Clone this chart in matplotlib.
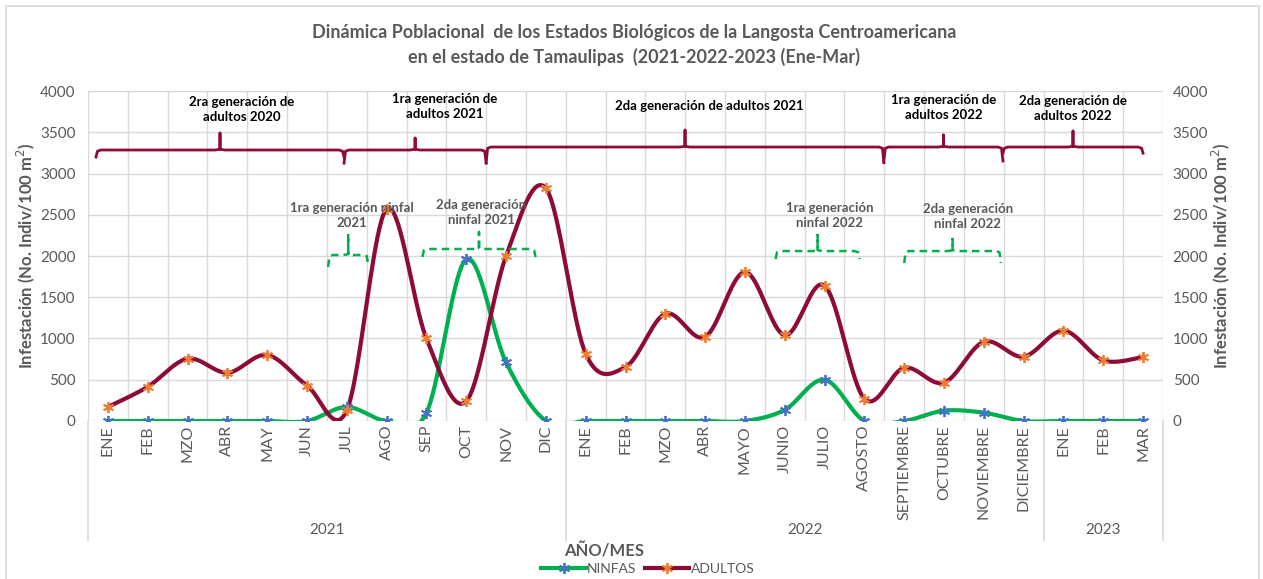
import numpy as np
import matplotlib.pyplot as plt
from matplotlib.transforms import blended_transform_factory

# Data
Months = ["ENE", "FEB", "MZO", "ABR", "MAY", "JUN", "JUL", "AGO", "SEP", "OCT", "NOV", "DIC",
          "ENE", "FEB", "MZO", "ABR", "MAYO", "JUNIO", "JULIO", "AGOSTO", "SEPTIEMBRE", "OCTUBRE",
          "NOVIEMBRE", "DICIEMBRE", "ENE", "FEB", "MAR"]
Years = ["2021", "2022", "2023"]
Months_per_year = [12, 12, 3]
Ninfas = [0, 0, 0, 0, 0, 0, 170, 0, 100, 1960, 710, 0,
          0, 0, 0, 0, 0, 135, 500, 0, 0, 125, 100, 0, 0, 0, 0]
Adultos = [170, 415, 755, 585, 800, 430, 130, 2570, 1000, 240, 2000, 2820,
           815, 655, 1300, 1020, 1805, 1040, 1640, 270, 645, 465, 960, 780, 1095, 735, 775]

# Generation brackets: (start, end, label) in category units
Adult_gens = [(-0.3, 5.93, "2ra generación de\nadultos 2020"),
              (5.93, 9.5, "1ra generación de\nadultos 2021"),
              (9.5, 19.49, "2da generación de adultos 2021"),
              (19.49, 22.48, "1ra generación de\nadultos 2022"),
              (22.48, 26.0, "2da generación de\nadultos 2022")]
Ninfa_gens = [(5.53, 6.54, "1ra generación ninfal\n2021"),
              (7.9, 10.74, "2da generación\nninfal 2021"),
              (16.77, 18.88, "1ra generación\nninfal 2022"),
              (20.0, 22.43, "2da generación\nninfal 2022")]

GRAY = "#595959"
RED = "#8E0B38"
GREEN = "#00B050"
plt.rcParams["font.family"] = ["Lato", "DejaVu Sans"]


def smooth(y, n=40):
    # Excel-like smoothed line (Catmull-Rom through the points)
    y = np.asarray(y, dtype=float)
    x = np.arange(len(y), dtype=float)
    P = np.column_stack([x, y])
    P = np.vstack([P[0], P, P[-1]])
    t = np.linspace(0, 1, n)[:, None]
    out = []
    for i in range(1, len(P) - 2):
        p0, p1, p2, p3 = P[i - 1], P[i], P[i + 1], P[i + 2]
        c1 = p1 + (p2 - p0) / 6
        c2 = p2 - (p3 - p1) / 6
        seg = (1 - t) ** 3 * p1 + 3 * (1 - t) ** 2 * t * c1 + 3 * (1 - t) * t ** 2 * c2 + t ** 3 * p2
        out.append(seg)
    out = np.vstack(out)
    return out[:, 0], out[:, 1]


def brace(ax, a, b, y, up, down, **kw):
    c = (a + b) / 2
    r = 0.12
    xs = [a, a + r * 0.3, a + r, c - r, c, c, c, c + r, b - r, b - r * 0.3, b]
    ys = [y - down, y - 15, y, y, y + 10, y + up, y + 10, y, y, y - 15, y - down]
    ax.plot(xs, ys, clip_on=False, **kw)


fig = plt.figure(figsize=(12.63, 5.79), dpi=100)
ax = fig.add_axes([0.0697, 0.2729, 0.8511, 0.5699])
x = np.arange(len(Months))

xs, ys = smooth(Ninfas)
ax.plot(xs, ys, color=GREEN, lw=3, zorder=3)
ax.plot(x, Ninfas, ls="none", marker=(6, 2, 0), ms=8, mew=1.3, color="#4472C4", zorder=4)
xs, ys = smooth(Adultos)
ax.plot(xs, ys, color=RED, lw=3, zorder=3)
ax.plot(x, Adultos, ls="none", marker=(6, 2, 0), ms=8, mew=1.3, color="#ED7D31", zorder=4)

ax.set_xlim(-0.5, 26.5)
ax.set_ylim(0, 4000)
ax.set_yticks(range(0, 4001, 500))
ax.set_xticks(np.arange(-0.5, 27, 1), minor=False)
ax.set_xticklabels([])
ax.tick_params(axis="x", length=0)
ax.tick_params(axis="y", length=0, labelsize=11, labelcolor=GRAY, pad=9)
ax.grid(True, color="#D9D9D9", lw=1)
for s in ax.spines.values():
    s.set_visible(False)
ax.set_axisbelow(True)

tr = blended_transform_factory(ax.transData, ax.transAxes)
for i, m in enumerate(Months):
    ax.text(i, -0.012, m, rotation=90, ha="center", va="top", fontsize=11.5, color=GRAY, transform=tr)

# Year groups
start = 0
bounds = [-0.5]
for yr, n in zip(Years, Months_per_year):
    ax.text(start + (n - 1) / 2, -0.33, yr, ha="center", va="center", fontsize=11, color=GRAY, transform=tr)
    start += n
    bounds.append(start - 0.5)
for bx in bounds:
    ax.plot([bx, bx], [0, -0.36], color="#D9D9D9", lw=1.2, transform=tr, clip_on=False)

ax.set_ylabel("Infestación (No. Indiv/100 m$^2$)", fontsize=12, fontweight="bold", color=GRAY, labelpad=2)
ax2 = ax.twinx()
ax2.set_ylim(0, 4000)
ax2.set_yticks(range(0, 4001, 500))
ax2.tick_params(axis="y", length=0, labelsize=11, labelcolor=GRAY, pad=7)
for s in ax2.spines.values():
    s.set_visible(False)
ax2.set_ylabel("Infestación (No. Indiv/100 m$^2$)", fontsize=12, fontweight="bold", color=GRAY, labelpad=1)

# Generation annotations
adult_y = [3285, 3285, 3321, 3321, 3321]
adult_up = [205, 145, 206, 146, 194]
adult_down = [85, 160, 190, 170, 75]
adult_txt_y = [3776, 3812, 3818, 3800, 3794]
adult_dx = [0.55, 0.75, 0.6, 0.0, 0.0]
for (a, b, lab), yy, up, dn, ty, dx in zip(Adult_gens, adult_y, adult_up, adult_down, adult_txt_y, adult_dx):
    brace(ax, a, b, yy, up, dn, color=RED, lw=2, zorder=5)
    ax.text((a + b) / 2 + dx, ty, lab, ha="center", va="center", fontsize=9.5, fontweight="bold",
            color="black", linespacing=1.3, zorder=6)

ninfa_y = [2012, 2085, 2060, 2060]
ninfa_up = [255, 206, 195, 146]
ninfa_down = [145, 97, 97, 145]
ninfa_txt_y = [2497, 2530, 2485, 2473]
ninfa_dx = [0.1, 0.05, 0.3, 0.38]
for (a, b, lab), yy, up, dn, ty, dx in zip(Ninfa_gens, ninfa_y, ninfa_up, ninfa_down, ninfa_txt_y, ninfa_dx):
    brace(ax, a, b, yy, up, dn, color=GREEN, lw=1.8, ls=(0, (3, 2)), zorder=5)
    ax.text((a + b) / 2 + dx, ty, lab, ha="center", va="center", fontsize=9.5, fontweight="bold",
            color=GRAY, linespacing=1.3, zorder=6)

fig.text(0.502, 0.922, "Dinámica Poblacional  de los Estados Biológicos de la Langosta Centroamericana\n"
         "en el estado de Tamaulipas  (2021-2022-2023 (Ene-Mar)",
         ha="center", va="center", fontsize=13, fontweight="bold", color=GRAY, linespacing=1.5)
fig.text(0.478, 0.048, "AÑO/MES", ha="center", va="center", fontsize=12, fontweight="bold", color=GRAY)

h1, = ax.plot([], [], color=GREEN, lw=3, marker=(6, 2, 0), ms=8, mew=1.3, mec="#4472C4", mfc="#4472C4")
h2, = ax.plot([], [], color=RED, lw=3, marker=(6, 2, 0), ms=8, mew=1.3, mec="#ED7D31", mfc="#ED7D31")
fig.legend([h1, h2], ["NINFAS", "ADULTOS"], loc="center", bbox_to_anchor=(0.513, 0.018), ncol=2,
           frameon=False, fontsize=10, labelcolor=GRAY, handlelength=3.2, handletextpad=0.1,
           columnspacing=0.6)

fig.patches.append(plt.Rectangle((0.005, -0.01), 0.992, 1.0, transform=fig.transFigure,
                                 fill=False, edgecolor="#D9D9D9", lw=1.2))
fig.savefig("out.png", dpi=100)
